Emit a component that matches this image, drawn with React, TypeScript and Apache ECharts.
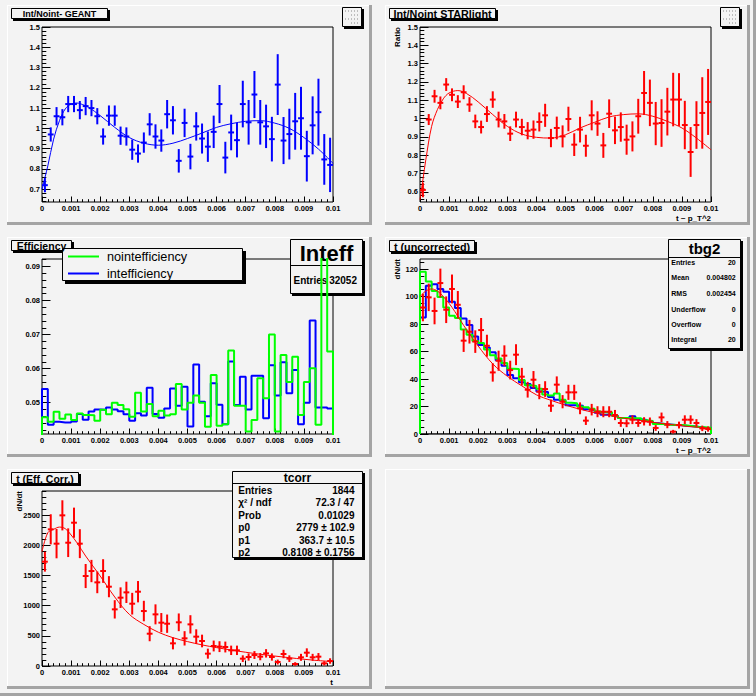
import React, { useEffect, useRef } from "react";
import * as echarts from "echarts";

const FONT = '"Liberation Sans", Arial, Helvetica, sans-serif';
const BG = "#f3f3f3";
const BIN_W = 0.0002;

const X_TICKS = [0, 0.001, 0.002, 0.003, 0.004, 0.005, 0.006, 0.007, 0.008, 0.009, 0.01];

// ---- pad 1 : Int/Noint- GEANT
const GEANT_RATIO = [0.72, 0.97, 1.06, 1.055, 1.12, 1.12, 1.09, 1.11, 1.1, 1.06,
  0.96, 1.063, 1.063, 0.964, 0.96, 0.895, 0.876, 0.93, 1.02, 0.96,
  0.94, 1.07, 1.04, 0.84, 1.027, 0.861, 1.01, 0.95, 0.91, 0.983,
  1.12, 0.856, 0.98, 0.942, 1.12, 1.03, 1.167, 1.03, 1.01, 0.947,
  1.216, 0.94, 0.972, 1.035, 1.05, 0.863, 1.015, 1.08, 0.847, 0.82];
const GEANT_ERR = [0.035, 0.035, 0.045, 0.04, 0.04, 0.04, 0.045, 0.045, 0.04, 0.04,
  0.04, 0.05, 0.05, 0.045, 0.045, 0.05, 0.045, 0.05, 0.055, 0.06,
  0.055, 0.07, 0.07, 0.058, 0.07, 0.063, 0.07, 0.074, 0.075, 0.08,
  0.094, 0.078, 0.088, 0.085, 0.115, 0.11, 0.116, 0.11, 0.107, 0.11,
  0.15, 0.116, 0.125, 0.14, 0.155, 0.125, 0.143, 0.165, 0.125, 0.134];
const GEANT_FIT_T = [0, 0.0001, 0.0002, 0.0004, 0.0006, 0.0008, 0.001, 0.0012, 0.0014, 0.0016, 0.002, 0.0025, 0.003, 0.0035, 0.004, 0.0045, 0.005, 0.0055, 0.006, 0.0065, 0.007, 0.0075, 0.008, 0.0085, 0.009, 0.0095, 0.01];
const GEANT_FIT = [0.7, 0.757, 0.815, 0.947, 1.038, 1.096, 1.12, 1.125, 1.117, 1.104, 1.063, 1.005, 0.955, 0.927, 0.917, 0.927, 0.95, 0.977, 1.005, 1.023, 1.035, 1.038, 1.026, 1.0, 0.955, 0.898, 0.828];
const Y1_TICKS = [0.7, 0.8, 0.9, 1, 1.1, 1.2, 1.3, 1.4, 1.5];

// ---- pad 2 : Int/Noint STARlight
const STAR_RATIO = [0.611, 0.995, 1.122, 1.086, 1.186, 1.13, 1.093, 1.144, 1.077, 0.985,
  0.954, 1.025, 1.104, 0.995, 0.985, 0.918, 0.995, 0.954, 0.934, 0.94,
  0.982, 1.018, 0.894, 0.949, 0.903, 0.998, 0.858, 0.94, 0.852, 1.018,
  0.973, 0.854, 1.027, 0.936, 0.954, 0.885, 0.903, 1.013, 1.14, 1.086,
  0.973, 0.976, 1.038, 1.104, 1.104, 0.965, 0.818, 0.965, 1.031, 1.091];
const STAR_ERR = [0.04, 0.03, 0.035, 0.035, 0.035, 0.035, 0.035, 0.038, 0.04, 0.037,
  0.035, 0.043, 0.045, 0.043, 0.04, 0.04, 0.043, 0.045, 0.047, 0.05,
  0.052, 0.063, 0.05, 0.062, 0.06, 0.067, 0.062, 0.07, 0.06, 0.082,
  0.067, 0.068, 0.078, 0.075, 0.08, 0.082, 0.082, 0.095, 0.12, 0.127,
  0.118, 0.13, 0.13, 0.146, 0.144, 0.132, 0.136, 0.13, 0.195, 0.18];
const STAR_FIT_T = [0, 0.0001, 0.0002, 0.0004, 0.0006, 0.0008, 0.001, 0.0013, 0.0016, 0.002, 0.0025, 0.003, 0.0035, 0.004, 0.0045, 0.005, 0.0055, 0.006, 0.0065, 0.007, 0.0075, 0.008, 0.0085, 0.009, 0.0095, 0.01];
const STAR_FIT = [0.557, 0.666, 0.776, 0.958, 1.05, 1.108, 1.14, 1.153, 1.137, 1.091, 1.022, 0.958, 0.916, 0.898, 0.894, 0.912, 0.949, 0.98, 1.009, 1.022, 1.026, 1.013, 0.985, 0.949, 0.894, 0.83];
const Y2_TICKS = [0.6, 0.7, 0.8, 0.9, 1, 1.1, 1.2, 1.3, 1.4, 1.5];

// ---- pad 3 : Efficiency
const EFF_NOINT = [0.0457, 0.0444, 0.0473, 0.0453, 0.0465, 0.0449, 0.0468, 0.0464, 0.0463, 0.0447,
  0.0479, 0.0466, 0.05, 0.0493, 0.0481, 0.0459, 0.0529, 0.0474, 0.0496, 0.046,
  0.0476, 0.0462, 0.0466, 0.0555, 0.048, 0.05, 0.0521, 0.05, 0.0429, 0.0581,
  0.0432, 0.0437, 0.0653, 0.0491, 0.0491, 0.0415, 0.0449, 0.0572, 0.0513, 0.07,
  0.0415, 0.064, 0.0561, 0.0635, 0.0464, 0.0561, 0.0601, 0.0435, 0.095, 0.065];
const EFF_INT = [0.054, 0.0435, 0.0444, 0.0442, 0.0442, 0.0445, 0.0467, 0.045, 0.0474, 0.048,
  0.0479, 0.0486, 0.048, 0.0475, 0.0466, 0.0447, 0.0469, 0.0462, 0.0544, 0.0467,
  0.0456, 0.0483, 0.0542, 0.0491, 0.0547, 0.043, 0.0612, 0.0503, 0.046, 0.0557,
  0.0494, 0.0437, 0.0621, 0.0493, 0.0576, 0.048, 0.0579, 0.0579, 0.0454, 0.061,
  0.0521, 0.0619, 0.0528, 0.0596, 0.0437, 0.05, 0.0741, 0.0486, 0.0486, 0.0483];
const Y3_TICKS = [0.05, 0.06, 0.07, 0.08, 0.09];

// ---- pad 4 : t (uncorrected)
const TUNC = [92, 99.4, 89.5, 109.8, 90.4, 105.5, 94, 67.9, 74.4, 67.2,
  75.6, 64.2, 44.8, 53.3, 57, 46.5, 57.7, 41.7, 32.2, 39.5,
  30.8, 32.7, 20.6, 35.9, 23.5, 30.3, 30.3, 18.7, 9.7, 17.7,
  16.2, 16.2, 16.2, 13.8, 8, 7.8, 10.4, 8, 9.2, 9,
  4.4, 12.1, 6.8, 1.7, 6.5, 10.4, 10.4, 8, 4.1, 3.6];
const TUNC_ERR = [10, 10, 9.7, 10.5, 9.7, 10.5, 10, 8.2, 8.6, 8.2,
  8.8, 8, 6.7, 7.3, 7.5, 6.8, 7.6, 6.4, 5.7, 6.3,
  5.5, 5.7, 4.5, 6, 4.8, 5.5, 5.5, 4.3, 3.1, 4.2,
  4, 4, 4, 3.7, 2.8, 2.8, 3.2, 2.8, 3, 3,
  2.1, 3.5, 2.6, 1.3, 2.5, 3.2, 3.2, 2.8, 2, 1.9];
const TUNC_BLUE = [84.8, 107.9, 109, 105.5, 103.5, 96.2, 91.6, 84.1, 79.3, 71,
  64.7, 63, 59.4, 53.6, 49.7, 42.9, 40.5, 37.6, 36.4, 33.5,
  31, 30.5, 26.9, 25, 24.2, 21, 20.9, 20.5, 18, 17.5,
  15.5, 14, 14.3, 13.3, 11.6, 11.6, 12.9, 10.7, 10.2, 9.2,
  7.8, 7.3, 7, 6.5, 6.3, 5.8, 5.6, 5.1, 4.6, 4.4];
const TUNC_GREEN = [118, 111, 104, 99.6, 92, 86, 84.4, 76, 72.2, 67.6,
  66.2, 61.5, 57.2, 55, 51.6, 47.5, 47.3, 39.3, 35.4, 35,
  33, 28.8, 28, 29.4, 25, 22.8, 22.3, 20, 19.4, 18.4,
  16.5, 15.8, 15.8, 13.3, 11.6, 11.6, 11.4, 11.4, 10, 9.5,
  7.3, 7.5, 6.8, 6.5, 6.5, 6.1, 5.6, 5.1, 4.9, 4.6];
const TBG2 = [0, 0, 0, 0, 0, 0, 0, 0, 0, 0,
  0, 0, 0, 0, 0, 0, 0, 0, 0, 0,
  0, 0.6, 0, 0, 0, 0, 0, 0, 0, 0,
  0, 0, 0, 0, 0, 0, 0, 0, 0, 0.6,
  0, 0, 0, 0, 0, 0, 0.6, 0, 0, 0];
const TUNC_FIT_T = [0, 0.0002, 0.0004, 0.0006, 0.0008, 0.001, 0.0012, 0.0015, 0.002, 0.0025, 0.003, 0.0035, 0.004, 0.0045, 0.005, 0.0055, 0.006, 0.0065, 0.007, 0.0075, 0.008, 0.0085, 0.009, 0.0095, 0.01];
const TUNC_FIT = [100, 104, 105.5, 104, 100, 95, 89, 79, 64, 51, 42, 35, 28.5, 24.5, 21, 18, 15.5, 13.5, 11.5, 10, 8.5, 7.2, 6, 5, 4.2];
const Y4_TICKS = [0, 20, 40, 60, 80, 100, 120];

// ---- pad 5 : t (Eff. Corr.)
const TCORR = [1731, 2268, 2030, 2500, 2046, 2378, 2030, 1493, 1576, 1388,
  1576, 1316, 940, 1134, 1222, 1034, 1233, 912, 536, 857,
  719, 702, 376, 725, 459, 691, 487, 415, 205, 332,
  321, 315, 260, 260, 122, 149, 182, 155, 210, 149,
  66, 199, 122, 33, 144, 221, 144, 155, 44, 83];
const TCORR_ERR = [165, 250, 243, 250, 238, 250, 240, 200, 185, 180,
  196, 175, 152, 171, 177, 180, 177, 170, 125, 166,
  160, 152, 100, 147, 119, 152, 122, 105, 83, 90,
  90, 90, 78, 78, 55, 60, 65, 60, 70, 60,
  40, 70, 55, 30, 58, 72, 58, 60, 35, 45];
const TCORR_FIT_T = [0, 0.0002, 0.0004, 0.0006, 0.0008, 0.001, 0.0012, 0.0015, 0.002, 0.0025, 0.003, 0.0035, 0.004, 0.0045, 0.005, 0.0055, 0.006, 0.0065, 0.007, 0.0075, 0.008, 0.0085, 0.009, 0.0095, 0.01];
const TCORR_FIT = [1897, 2212, 2268, 2305, 2279, 2174, 2046, 1825, 1493, 1145, 857, 690, 560, 470, 405, 350, 305, 265, 228, 195, 165, 138, 112, 90, 72];
const Y5_TICKS = [0, 500, 1000, 1500, 2000, 2500];

// ---- layout (pixels)
const PADS = [
  [7, 5, 365, 220], [385, 5, 365, 220],
  [7, 237, 365, 220], [385, 237, 365, 220],
  [7, 469, 365, 220], [385, 469, 365, 220],
];
const Y_AXES = [
  { min: 0.637, max: 1.5, ticks: Y1_TICKS, minor: 0.02 },
  { min: 0.545, max: 1.5, ticks: Y2_TICKS, minor: 0.02 },
  { min: 0.0408, max: 0.0922, ticks: Y3_TICKS, minor: 0.002 },
  { min: 0, max: 127.3, ticks: Y4_TICKS, minor: 5 },
  { min: 0, max: 2904, ticks: Y5_TICKS, minor: 100 },
];

function minorTicks(min: number, max: number, step: number, majors: number[]) {
  const out: number[] = [];
  const k0 = Math.ceil(min / step - 1e-9);
  const k1 = Math.floor(max / step + 1e-9);
  for (let k = k0; k <= k1; k++) {
    const v = +(k * step).toFixed(10);
    if (!majors.some((m) => Math.abs(m - v) < step * 1e-3)) out.push(v);
  }
  return out;
}
const fmt = (v: any) => String(+(+v).toFixed(6));

function histData(vals: number[], base: number) {
  const d: number[][] = [[0, base]];
  vals.forEach((v, i) => d.push([+(i * BIN_W).toFixed(8), v]));
  const end = +(vals.length * BIN_W).toFixed(8);
  d.push([end, vals[vals.length - 1]]);
  d.push([end, base]);
  return d;
}

function buildOption() {
  const grids: any[] = [];
  const xAxes: any[] = [];
  const yAxes: any[] = [];
  const labelStyle = { color: "#000", fontSize: 7.5, fontWeight: "bold", fontFamily: FONT };
  const xMinor = minorTicks(0, 0.01, BIN_W, X_TICKS);
  for (let g = 0; g < 5; g++) {
    const p = PADS[g];
    grids.push({
      left: p[0] + 35, top: p[1] + 22, width: 291, height: 175,
      show: true, borderColor: "#000", borderWidth: 1, backgroundColor: "transparent",
      containLabel: false, outerBoundsMode: "none",
    });
    xAxes.push({
      type: "value", gridIndex: g, min: 0, max: 0.01, position: "bottom",
      axisLine: { show: false }, splitLine: { show: false },
      axisTick: { show: true, inside: true, length: 5.5, customValues: X_TICKS, lineStyle: { color: "#000", width: 1 } },
      axisLabel: { show: true, margin: 2, customValues: X_TICKS, formatter: fmt, ...labelStyle },
    });
    xAxes.push({
      type: "value", gridIndex: g, min: 0, max: 0.01, position: "bottom", offset: 0,
      axisLine: { show: false }, splitLine: { show: false }, axisLabel: { show: false },
      axisTick: { show: true, inside: true, length: 2.8, customValues: xMinor, lineStyle: { color: "#000", width: 1 } },
    });
    const ya = Y_AXES[g];
    yAxes.push({
      type: "value", gridIndex: g, min: ya.min, max: ya.max, position: "left",
      axisLine: { show: false }, splitLine: { show: false },
      axisTick: { show: true, inside: true, length: 8.5, customValues: ya.ticks, lineStyle: { color: "#000", width: 1 } },
      axisLabel: { show: true, margin: 2, customValues: ya.ticks, formatter: fmt, ...labelStyle },
    });
    yAxes.push({
      type: "value", gridIndex: g, min: ya.min, max: ya.max, position: "left", offset: 0,
      axisLine: { show: false }, splitLine: { show: false }, axisLabel: { show: false },
      axisTick: { show: true, inside: true, length: 4.3, customValues: minorTicks(ya.min, ya.max, ya.minor, ya.ticks), lineStyle: { color: "#000", width: 1 } },
    });
  }

  const errSeries = (g: number, vals: number[], errs: number[], color: string) => ({
    type: "custom", xAxisIndex: 2 * g, yAxisIndex: 2 * g, clip: true, z: 5, silent: true,
    encode: { x: 0, y: 1 },
    data: vals.map((v, i) => [+((i + 0.5) * BIN_W).toFixed(8), v, errs[i]]),
    renderItem: (_params: any, api: any) => {
      const x = api.value(0), y = api.value(1), e = api.value(2);
      const c = api.coord([x, y]);
      const lo = api.coord([x, y - e]);
      const hi = api.coord([x, y + e]);
      const l = api.coord([x - BIN_W / 2, y]);
      const r = api.coord([x + BIN_W / 2, y]);
      return {
        type: "group",
        children: [
          { type: "line", shape: { x1: c[0], y1: lo[1], x2: c[0], y2: hi[1] }, style: { stroke: color, lineWidth: 2 } },
          { type: "line", shape: { x1: l[0], y1: c[1], x2: r[0], y2: c[1] }, style: { stroke: color, lineWidth: 2 } },
        ],
      };
    },
  });
  const curve = (g: number, xs: number[], ys: number[], color: string) => ({
    type: "line", xAxisIndex: 2 * g, yAxisIndex: 2 * g, clip: true, z: 4, silent: true,
    data: xs.map((x, i) => [x, ys[i]]), smooth: 0.35, symbol: "none", showSymbol: false,
    lineStyle: { color, width: 1 }, itemStyle: { color },
  });
  const hist = (g: number, vals: number[], base: number, color: string, width: number, z = 3) => ({
    type: "line", xAxisIndex: 2 * g, yAxisIndex: 2 * g, clip: true, z, silent: true, step: "end",
    data: histData(vals, base), symbol: "none", showSymbol: false,
    lineStyle: { color, width }, itemStyle: { color },
  });

  const series = [
    errSeries(0, GEANT_RATIO, GEANT_ERR, "#0000ff"),
    curve(0, GEANT_FIT_T, GEANT_FIT, "#0000ff"),
    errSeries(1, STAR_RATIO, STAR_ERR, "#ff0000"),
    curve(1, STAR_FIT_T, STAR_FIT, "#ff0000"),
    hist(2, EFF_INT, 0, "#0000ff", 2),
    hist(2, EFF_NOINT, 0, "#00ff00", 2),
    hist(3, TBG2, 0, "#000000", 1),
    hist(3, TUNC_BLUE, 0, "#0000ff", 2),
    hist(3, TUNC_GREEN, 0, "#00ff00", 2),
    curve(3, TUNC_FIT_T, TUNC_FIT, "#ff0000"),
    errSeries(3, TUNC, TUNC_ERR, "#ff0000"),
    errSeries(4, TCORR, TCORR_ERR, "#ff0000"),
    curve(4, TCORR_FIT_T, TCORR_FIT, "#ff0000"),
  ];

  // ---- graphic overlays
  const els: any[] = [];
  const rect = (x: number, y: number, w: number, h: number, fill: string, z: number, stroke?: string, lw?: number) =>
    els.push({ type: "rect", silent: true, z, shape: { x, y, width: w, height: h }, style: { fill, stroke: stroke || "none", lineWidth: lw || 0 } });
  const seg = (x1: number, y1: number, x2: number, y2: number, stroke: string, lw: number, z: number) =>
    els.push({ type: "line", silent: true, z, shape: { x1, y1, x2, y2 }, style: { stroke, lineWidth: lw } });
  const txt = (x: number, y: number, text: string, size: number, weight: string, align: string, z: number, rotation = 0) =>
    els.push({
      type: "text", silent: true, z, x, y, rotation,
      style: { text, fill: "#000", font: `${weight} ${size}px ${FONT}`, align, verticalAlign: "middle", textAlign: align, textVerticalAlign: "middle" },
    });
  const box = (x1: number, y1: number, x2: number, y2: number, sh: number, z: number) => {
    rect(x1 + sh, y1 + sh, x2 - x1, y2 - y1, "#000", z);
    rect(x1 + 0.5, y1 + 0.5, x2 - x1 - 1, y2 - y1 - 1, BG, z + 1, "#000", 1);
  };

  // pad bevels
  PADS.forEach(([px, py, w, h]) => {
    seg(px, py + 0.5, px + w, py + 0.5, "#ffffff", 1, 0);
    seg(px + 0.5, py, px + 0.5, py + h, "#ffffff", 1, 0);
    rect(px + w - 3, py, 3, h, "#a4a4a4", 0);
    rect(px, py + h - 3, w, 3, "#a4a4a4", 0);
  });
  // canvas bevel
  rect(753, 0, 3, 696, "#a4a4a4", 0);
  rect(0, 693, 756, 3, "#a4a4a4", 0);

  // titles
  const title = (x1: number, y1: number, x2: number, y2: number, text: string, size: number) => {
    box(x1, y1, x2, y2, 2, 100);
    txt((x1 + x2) / 2, (y1 + y2) / 2 + 0.5, text, size, "bold", "center", 102);
  };
  title(11, 8, 108, 19, "Int/Noint- GEANT", 9);
  title(389, 8, 496, 19, "Int/Noint STARlight", 10.8);
  title(11, 240, 72, 251, "Efficiency", 10.5);
  title(389, 240, 475, 252, "t (uncorrected)", 10.8);
  title(11, 472, 79, 484, "t (Eff. Corr.)", 10.5);

  // empty stats icons (pads 1, 2)
  [342, 720].forEach((x0) => {
    box(x0, 7, x0 + 20, 27, 2, 100);
    [11, 15, 19, 23].forEach((yy, k) => {
      els.push({ type: "line", silent: true, z: 103, shape: { x1: x0 + 3 + (k % 2) * 6, y1: yy, x2: x0 + 17, y2: yy }, style: { stroke: "#888", lineWidth: 1, lineDash: [1, 2] } });
    });
  });

  // axis titles
  txt(397.5, 27, "Ratio", 8, "bold", "right", 50, Math.PI / 2);
  txt(711, 218.5, "t ~ p_T^2", 8, "bold", "right", 50);
  txt(397.5, 259, "dN/dt", 8, "bold", "right", 50, Math.PI / 2);
  txt(711, 450.5, "t ~ p_T^2", 8, "bold", "right", 50);
  txt(19.5, 491, "dN/dt", 8, "bold", "right", 50, Math.PI / 2);
  txt(333, 682.5, "t", 8, "bold", "right", 50);

  // legend pad 3
  box(62, 248, 243, 281, 3, 100);
  seg(68, 256.5, 99, 256.5, "#00ff00", 2, 103);
  seg(68, 273.5, 99, 273.5, "#0000ff", 2, 103);
  txt(107, 256.5, "nointefficiency", 12.7, "normal", "left", 103);
  txt(107, 273.5, "intefficiency", 12.7, "normal", "left", 103);

  // stats pad 3 (below the histograms)
  box(290, 239, 363, 294, 2, 0);
  seg(290, 265.5, 362, 265.5, "#000", 1, 1);
  txt(326.5, 253, "Inteff", 22, "bold", "center", 1);
  txt(293.5, 280, "Entries", 10, "bold", "left", 1);
  txt(357, 280, "32052", 10, "bold", "right", 1);

  // stats pad 4
  box(668, 239, 741, 349, 2, 100);
  seg(668, 257.5, 740, 257.5, "#000", 1, 102);
  txt(704.5, 248, "tbg2", 15, "bold", "center", 102);
  const s4 = [["Entries", "20"], ["Mean", "0.004802"], ["RMS", "0.002454"], ["Underflow", "0"], ["Overflow", "0"], ["Integral", "20"]];
  const s4y = [262.7, 277.7, 293, 309, 324, 339];
  s4.forEach(([a, b], i) => {
    txt(671.3, s4y[i], a, 7, "bold", "left", 102);
    txt(735.7, s4y[i], b, 7, "bold", "right", 102);
  });

  // stats pad 5
  box(232, 471, 363, 558, 2, 100);
  seg(232, 483.5, 362, 483.5, "#000", 1, 102);
  txt(297.5, 477.5, "tcorr", 12, "bold", "center", 102);
  const s5 = [["Entries", "1844"], ["χ² / ndf", "72.3 / 47"], ["Prob", "0.01029"], ["p0", "2779 ± 102.9"], ["p1", "363.7 ± 10.5"], ["p2", "0.8108 ± 0.1756"]];
  const s5y = [490, 502.5, 515, 527.5, 540, 552.3];
  s5.forEach(([a, b], i) => {
    txt(238.3, s5y[i], a, 10, "bold", "left", 102);
    txt(354.5, s5y[i], b, 10, "bold", "right", 102);
  });

  return {
    animation: false,
    backgroundColor: BG,
    grid: grids,
    xAxis: xAxes,
    yAxis: yAxes,
    series,
    graphic: els,
  };
}

export default function App() {
  const ref = useRef<HTMLDivElement>(null);
  useEffect(() => {
    document.body.style.margin = "0";
    const chart = echarts.init(ref.current!, null, { renderer: "svg" });
    chart.setOption(buildOption() as any);
    return () => chart.dispose();
  }, []);
  return <div ref={ref} style={{ position: "absolute", left: 0, top: 0, width: 756, height: 696 }} />;
}
